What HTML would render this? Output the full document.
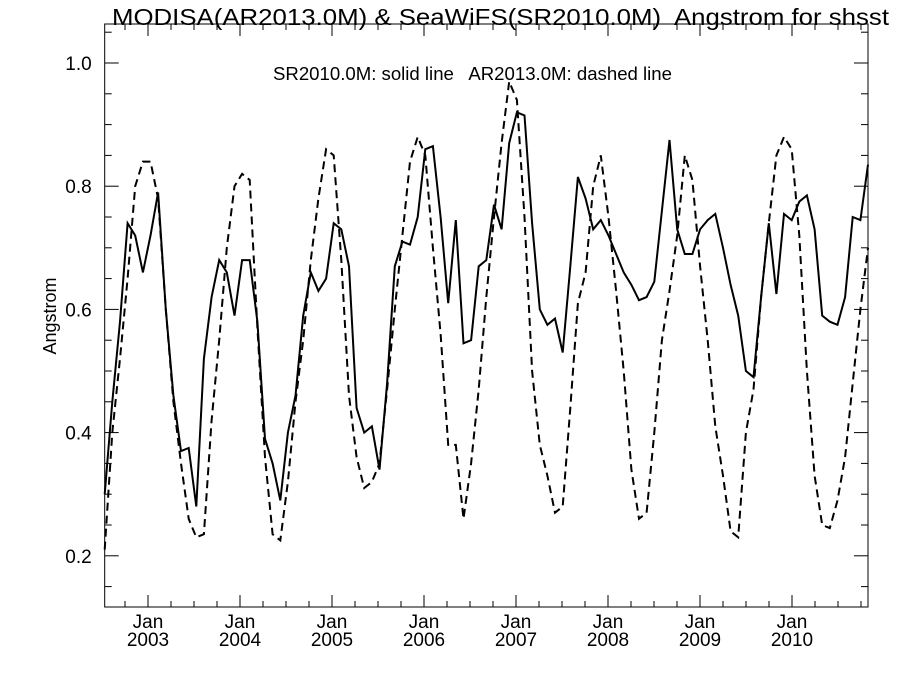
<!DOCTYPE html>
<html><head><meta charset="utf-8">
<style>
html,body{margin:0;padding:0;background:#fff;}
svg{display:block;font-family:"Liberation Sans",sans-serif;}
</style></head>
<body>
<svg id="chart" width="900" height="675" viewBox="0 0 900 675" xmlns="http://www.w3.org/2000/svg">
<text x="112" y="25" font-size="23" xml:space="preserve" style="white-space:pre" textLength="777" lengthAdjust="spacingAndGlyphs">MODISA(AR2013.0M) &amp; SeaWiFS(SR2010.0M)  Angstrom for shsst</text>
<text x="273" y="80" font-size="18" xml:space="preserve" style="white-space:pre" textLength="399" lengthAdjust="spacingAndGlyphs">SR2010.0M: solid line   AR2013.0M: dashed line</text>
<text x="0" y="0" font-size="18" text-anchor="middle" transform="translate(56,316) rotate(-90)">Angstrom</text>
<g id="axes"></g>
<g id="series"></g>
</svg>
<script>
const yTicks = [0.2, 0.4, 0.6, 0.8, 1.0];
const yTickLabels = ["0.2", "0.4", "0.6", "0.8", "1.0"];
const xYears = ["2003", "2004", "2005", "2006", "2007", "2008", "2009", "2010"];
const solidSeaWiFS = [
0.30,0.45,0.58,0.74,0.72,0.66,
0.72,0.79,0.60,0.46,0.37,0.375,0.28,0.52,0.62,0.68,0.66,0.59,
0.68,0.68,0.58,0.39,0.35,0.29,0.40,0.46,0.59,0.66,0.63,0.65,
0.74,0.73,0.67,0.44,0.40,0.41,0.34,0.48,0.67,0.71,0.705,0.75,
0.86,0.865,0.75,0.61,0.745,0.545,0.55,0.67,0.68,0.77,0.73,0.87,
0.92,0.915,0.74,0.60,0.575,0.585,0.53,0.67,0.815,0.78,0.73,0.745,
0.72,0.69,0.66,0.64,0.615,0.62,0.645,0.76,0.875,0.73,0.69,0.69,
0.73,0.745,0.755,0.70,0.64,0.59,0.50,0.49,0.62,0.74,0.625,0.755,
0.745,0.775,0.785,0.73,0.59,0.58,0.575,0.62,0.75,0.745,0.835];
const dashedMODISA = [
0.21,0.40,0.52,0.65,0.80,0.84,
0.84,0.78,0.60,0.45,0.35,0.26,0.23,0.235,0.42,0.55,0.70,0.80,
0.82,0.81,0.57,0.36,0.235,0.225,0.32,0.45,0.55,0.68,0.78,0.86,
0.85,0.68,0.46,0.36,0.31,0.32,0.35,0.47,0.60,0.72,0.84,0.88,
0.85,0.70,0.56,0.38,0.38,0.26,0.35,0.47,0.62,0.75,0.87,0.97,
0.94,0.75,0.50,0.38,0.33,0.27,0.28,0.44,0.61,0.66,0.80,0.85,
0.75,0.63,0.50,0.34,0.26,0.27,0.40,0.55,0.63,0.72,0.85,0.81,
0.67,0.55,0.41,0.33,0.24,0.23,0.40,0.47,0.62,0.74,0.85,0.88,
0.86,0.72,0.50,0.33,0.25,0.245,0.29,0.36,0.48,0.60,0.70];

const L=104.7,R=868,T=24,B=607;
function yScale(v){return 63+(1-v)*616;}
function xIdx(i){return L+i*(R-L)/100;}
function xMonth(m){return 148+m*92/12;}
const NS="http://www.w3.org/2000/svg";
const axes=document.getElementById('axes');
function mk(tag,attrs,parent){const e=document.createElementNS(NS,tag);for(const k in attrs)e.setAttribute(k,attrs[k]);parent.appendChild(e);return e;}
const frame=mk('rect',{x:L,y:T,width:R-L,height:B-T,fill:'none',stroke:'#000','stroke-width':1},axes);


for(let v=0.15;v<=1.06;v+=0.05){
  const y=yScale(v);const major=yTicks.some(t=>Math.abs(t-v)<1e-6);const len=major?14:7;
  const t1=mk('line',{x1:L,x2:L+len,y1:y,y2:y,stroke:'#000'},axes);
  
  
  const t2=mk('line',{x1:R,x2:R-len,y1:y,y2:y,stroke:'#000'},axes);
  
  
}
yTicks.forEach((v,i)=>{
  const t=mk('text',{x:L-13,y:yScale(v)+7,'font-size':19,'text-anchor':'end'},axes);
  t.textContent=yTickLabels[i];
  
  
});
for(let m=-3;m<=93;m+=3){
  const x=xMonth(m);if(x<L||x>R)continue;const major=(m%12===0);const len=major?12:6;
  const a=mk('line',{x1:x,x2:x,y1:B,y2:B-len,stroke:'#000'},axes);
  
  
  const b=mk('line',{x1:x,x2:x,y1:T,y2:T+len,stroke:'#000'},axes);
  
  
}
xYears.forEach((yr,i)=>{
  const x=xMonth(i*12);
  const t1=mk('text',{x:x,y:628,'font-size':19,'text-anchor':'middle'},axes);
  t1.textContent='Jan';
  
  
  const t2=mk('text',{x:x,y:646,'font-size':19,'text-anchor':'middle'},axes);
  t2.textContent=yr;
  
  
});
const series=document.getElementById('series');
function pts(arr){return arr.map((v,i)=>xIdx(i).toFixed(1)+','+yScale(v).toFixed(1)).join(' ');}
const s1=mk('polyline',{points:pts(solidSeaWiFS),fill:'none',stroke:'#000','stroke-width':2,'stroke-linejoin':'miter'},series);


const s2=mk('polyline',{points:pts(dashedMODISA),fill:'none',stroke:'#000','stroke-width':2,'stroke-dasharray':'8,5'},series);


</script>
</body></html>
